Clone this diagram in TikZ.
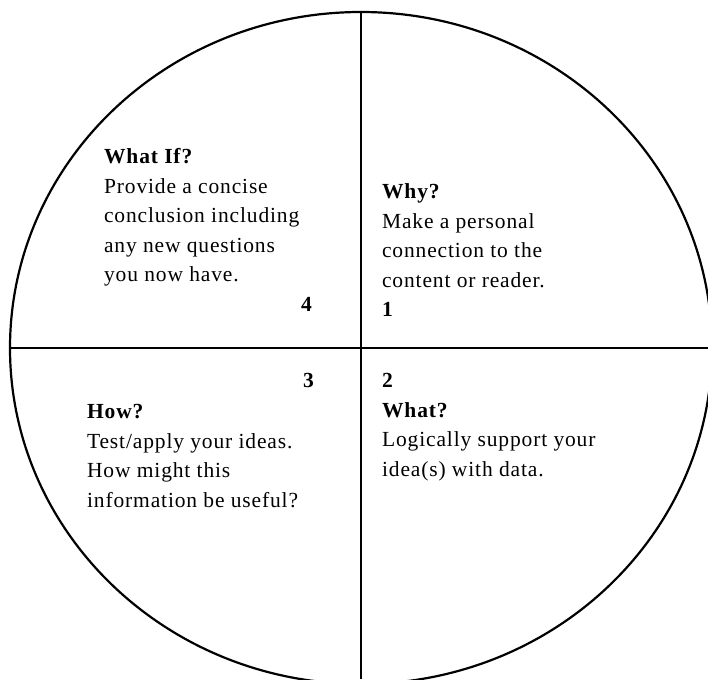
\documentclass[tikz,border=0pt]{standalone}
\usepackage{fontspec}
\setmainfont[LetterSpace=4]{Liberation Serif}
\usetikzlibrary{positioning}
\newcommand{\wheelFont}{\fontsize{21.5}{29.5}\selectfont}
\newcommand{\wheelLine}{2.2pt}

\begin{document}
\begin{tikzpicture}[x=1pt, y=-1pt, line width=\wheelLine,
		every node/.style={font=\wheelFont, inner sep=0pt, align=left},
		stepnum/.style={font=\wheelFont\bfseries}]
		\clip[use as bounding box] (0,0) rectangle (708,679);
		% the wheel
		\coordinate (centre) at (361,348);
		\coordinate (top) at (361,12);
		\coordinate (bottom) at (361,679);
		\coordinate (left) at (10,348);
		\coordinate (right) at (708,348);
		\draw (centre) ellipse [x radius=351pt, y radius=336pt];
		\draw (top) -- (bottom);
		\draw (left) -- (right);
		%\begin{quadrant}{4}
			\node[anchor=north west] (whatIf) at (103,147.5) {\textbf{What If?}\\Provide a concise\\conclusion including\\any new questions\\you now have.};
			\node[stepnum, anchor=base east] (four) at (313,311) {4};
		%\end{quadrant}
		%\begin{quadrant}{1}
			\node[anchor=north west] (why) at (381,182.5) {\textbf{Why?}\\Make a personal\\connection to the\\content or reader.\\\textbf{1}};
		%\end{quadrant}
		%\begin{quadrant}{3}
			\node[stepnum, anchor=base east] (three) at (315,387) {3};
			\node[anchor=north west] (how) at (86,403.5) {\textbf{How?}\\Test/apply your ideas.\\How might this\\information be useful?};
		%\end{quadrant}
		%\begin{quadrant}{2}
			\node[anchor=north west] (what) at (381,372.5) {\textbf{2}\\\textbf{What?}\\Logically support your\\idea(s) with data.};
		%\end{quadrant}
	\end{tikzpicture}
\end{document}
